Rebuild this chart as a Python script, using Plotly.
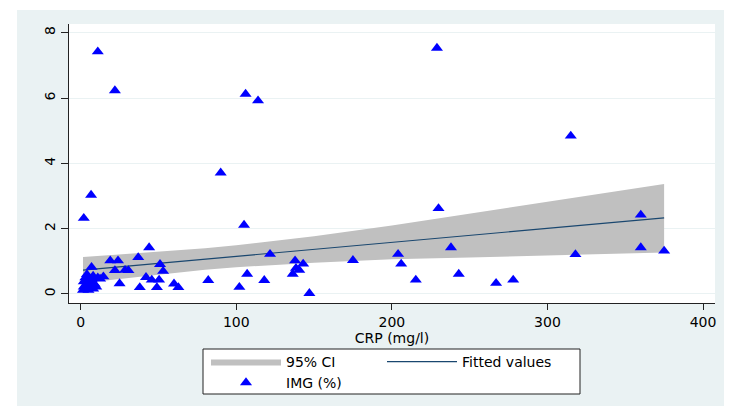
import plotly.graph_objects as go

# ---- data ----
crp = [2, 105, 44, 121.7, 19, 24, 37, 7, 51, 22, 30.7, 53, 42, 45.7, 50.4, 25, 38, 49, 60, 62.8,
       82, 102, 107, 118, 137.8, 143, 138.4, 136.3, 140.5, 175, 147, 204, 206, 215.4, 230, 238,
       243, 267, 278, 315, 360, 360, 375, 318, 11, 22, 106, 114, 90, 229, 6.7,
       1.5, 2, 2, 3, 3, 4, 4, 5, 5, 6, 7, 8, 8, 9, 10, 11, 12.5, 14.6, 28.5]
img = [2.32, 2.11, 1.42, 1.22, 1.02, 1.02, 1.12, 0.82, 0.91, 0.72, 0.72, 0.70, 0.51, 0.43, 0.43,
       0.32, 0.20, 0.20, 0.31, 0.20, 0.42, 0.21, 0.61, 0.42, 1.02, 0.92, 0.79, 0.61, 0.73, 1.03,
       0.02, 1.22, 0.92, 0.43, 2.62, 1.42, 0.61, 0.33, 0.43, 4.84, 2.42, 1.42, 1.32, 1.21, 7.42,
       6.23, 6.12, 5.92, 3.71, 7.53, 3.03,
       0.12, 0.22, 0.38, 0.15, 0.50, 0.30, 0.60, 0.12, 0.42, 0.25, 0.45, 0.16, 0.55, 0.30, 0.22,
       0.50, 0.46, 0.53, 0.73]

ci_x = [1.5, 25, 50, 80, 100, 150, 200, 250, 300, 375]
ci_lower = [0.34, 0.45, 0.59, 0.74, 0.82, 0.96, 1.06, 1.12, 1.19, 1.27]
ci_upper = [1.13, 1.21, 1.28, 1.40, 1.49, 1.77, 2.10, 2.46, 2.82, 3.37]

fit_x = [1.5, 375]
fit_y = [0.73, 2.33]

x_ticks = [0, 100, 200, 300, 400]
y_ticks = [0, 2, 4, 6, 8]

# ---- figure (page has an 8px body margin, so the figure is offset by 8px) ----
OFF = 8
W, H = 732 - OFF, 406 - OFF
L, R, T, B = 69 - OFF, 17, 24 - OFF, 103
pw, ph = W - L - R, H - T - B


def px_x(p):  # page pixel -> paper fraction
    return (p - OFF - L) / pw


def px_y(p):
    return (H - B - (p - OFF)) / ph


BG = '#EAF2F3'
AX = '#222222'
FONT = 'DejaVu Sans'

fig = go.Figure()
fig.add_trace(go.Scatter(
    x=ci_x + ci_x[::-1], y=ci_upper + ci_lower[::-1],
    mode='lines', fill='toself', fillcolor='#C0C0C0',
    line=dict(width=0, color='#C0C0C0'),
    name='95% CI', legend='legend', hoverinfo='skip'))
fig.add_trace(go.Scatter(
    x=fit_x, y=fit_y, mode='lines',
    line=dict(color='#1A476F', width=1.2),
    name='Fitted values', legend='legend'))
fig.add_trace(go.Scatter(
    x=crp, y=img, mode='markers',
    marker=dict(symbol='triangle-up', size=10.5, color='#0000FF', line=dict(width=0)),
    name='IMG (%)', legend='legend2'))

leg_common = dict(orientation='h', xanchor='left', yanchor='middle',
                  itemwidth=70, entrywidth=91, entrywidthmode='pixels',
                  bgcolor='rgba(0,0,0,0)', borderwidth=0,
                  font=dict(family=FONT, size=14, color='black'))

fig.update_layout(
    width=W, height=H,
    margin=dict(l=L, r=R, t=T, b=B, autoexpand=False),
    paper_bgcolor=BG, plot_bgcolor='white',
    font=dict(family=FONT, size=14, color='black'),
    xaxis=dict(range=[-7.5, 407.7], tickvals=x_ticks, ticks='outside', ticklen=6,
               tickcolor=AX, showline=True, linecolor=AX, linewidth=1,
               showgrid=False, zeroline=False,
               title=dict(text='CRP (mg/l)', standoff=2,
                          font=dict(family=FONT, size=14, color='black'))),
    yaxis=dict(range=[-0.276, 8.267], tickvals=y_ticks, ticks='outside', ticklen=7,
               tickcolor=AX, tickangle=-90, showline=True, linecolor=AX, linewidth=1,
               showgrid=True, gridcolor=BG, gridwidth=1, zeroline=False),
    legend=dict(x=px_x(206), y=px_y(362), **leg_common),
    legend2=dict(x=px_x(206), y=px_y(383), **leg_common),
    showlegend=True,
    shapes=[
        dict(type='rect', xref='paper', yref='paper', layer='below',
             x0=px_x(203), x1=px_x(580), y0=px_y(394), y1=px_y(349),
             line=dict(color=AX, width=1), fillcolor='white'),
        dict(type='rect', xref='paper', yref='paper', layer='above',
             x0=px_x(OFF - 2), x1=px_x(17), y0=px_y(406 + 4), y1=px_y(OFF - 2),
             line=dict(width=0), fillcolor='white'),
        dict(type='rect', xref='paper', yref='paper', layer='above',
             x0=px_x(OFF - 2), x1=px_x(740), y0=px_y(10), y1=px_y(OFF - 2),
             line=dict(width=0), fillcolor='white'),
    ],
)

fig.write_html('out.html')
